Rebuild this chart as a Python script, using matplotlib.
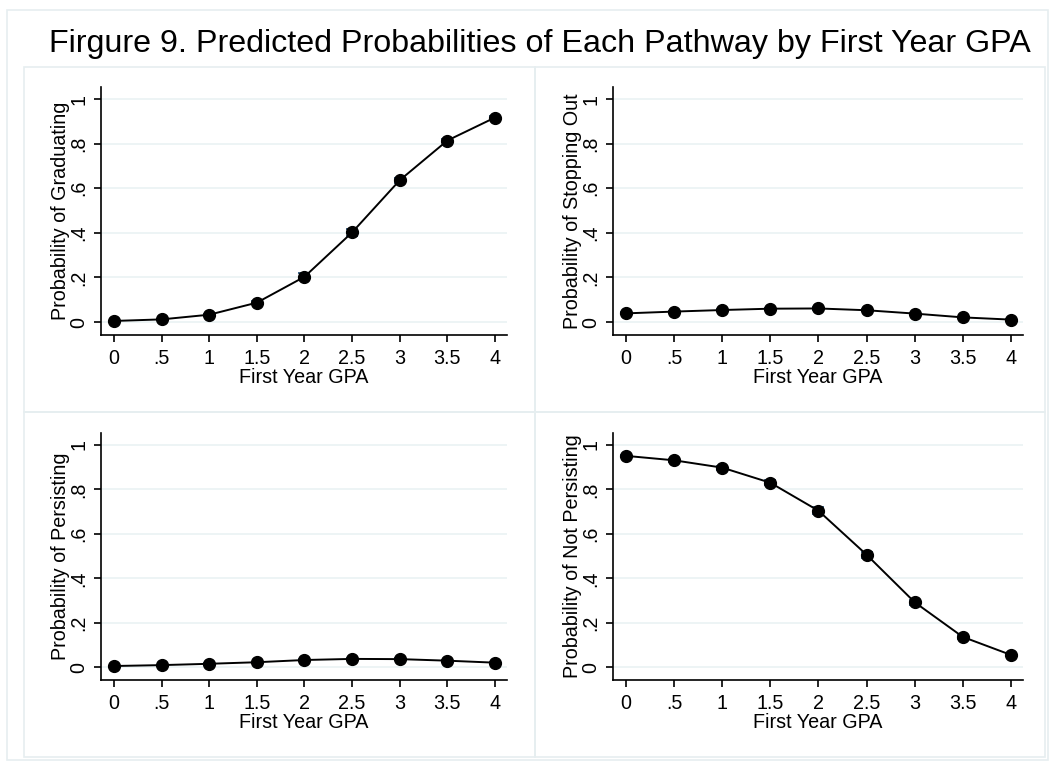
#!/usr/bin/env python3
# Predicted probabilities of each pathway by first year GPA (2x2 panels)
import matplotlib
matplotlib.use('Agg')
from matplotlib import pyplot as plt
from matplotlib.patches import Rectangle

plt.rcParams['font.family'] = ['Liberation Sans', 'DejaVu Sans']

# data
gpa = [0, 0.5, 1, 1.5, 2, 2.5, 3, 3.5, 4]
gpa_labels = ['0', '.5', '1', '1.5', '2', '2.5', '3', '3.5', '4']
prob_ticks = [0, 0.2, 0.4, 0.6, 0.8, 1]
prob_labels = ['0', '.2', '.4', '.6', '.8', '1']

graduating = [0.005, 0.012, 0.033, 0.087, 0.203, 0.402, 0.636, 0.814, 0.917]
graduating_ci = [0.002, 0.003, 0.005, 0.008, 0.016, 0.014, 0.011, 0.008, 0.006]
stopping_out = [0.039, 0.047, 0.054, 0.060, 0.061, 0.053, 0.038, 0.021, 0.011]
stopping_out_ci = [0.004, 0.004, 0.004, 0.004, 0.005, 0.004, 0.004, 0.003, 0.002]
persisting = [0.005, 0.009, 0.015, 0.022, 0.032, 0.037, 0.036, 0.029, 0.020]
persisting_ci = [0.002, 0.002, 0.003, 0.003, 0.004, 0.004, 0.004, 0.004, 0.004]
not_persisting = [0.951, 0.931, 0.898, 0.830, 0.704, 0.506, 0.292, 0.136, 0.055]
not_persisting_ci = [0.006, 0.007, 0.009, 0.012, 0.016, 0.013, 0.011, 0.008, 0.005]

panels = [
	('Probability of Graduating', graduating, graduating_ci),
	('Probability of Stopping Out', stopping_out, stopping_out_ci),
	('Probability of Persisting', persisting, persisting_ci),
	('Probability of Not Persisting', not_persisting, not_persisting_ci),
]

W, H = 1055, 768
fig = plt.figure(figsize=(W / 100, H / 100), dpi=100)

border = '#e6eef0'

def px_rect(x0, y0, x1, y1):
	# rectangle in figure fraction from pixel corners (top-left origin)
	return Rectangle((x0 / W, 1 - y1 / H), (x1 - x0) / W, (y1 - y0) / H,
		transform=fig.transFigure, fill=False, edgecolor=border, linewidth=1.2)

fig.patches.append(px_rect(7, 10, 1048, 760))
for (x0, y0, x1, y1) in [(24, 67, 535, 412), (535, 67, 1045, 412),
						(24, 412, 535, 757), (535, 412, 1045, 757)]:
	fig.patches.append(px_rect(x0, y0, x1, y1))

fig.text(540 / W, 1 - 44 / H, 'Firgure 9. Predicted Probabilities of Each Pathway by First Year GPA',
	ha='center', va='center', fontsize=23.2)

# axes positions in pixels: left, right, top, bottom
boxes = [(101, 507, 87, 335), (613, 1023, 87, 335),
		(101, 507, 433, 680), (613, 1023, 433, 680)]

for (ylabel, values, ci), (l, r, t, b) in zip(panels, boxes):
	ax = fig.add_axes([l / W, 1 - b / H, (r - l) / W, (b - t) / H])
	ax.errorbar(gpa, values, yerr=ci, fmt='none', ecolor='#1a476f',
		elinewidth=1.2, capsize=4, capthick=1.2, zorder=2)
	ax.plot(gpa, values, color='black', linewidth=1.4, marker='o',
		markersize=8.5, zorder=3)
	ax.set_xlim(-0.136, 4.126)
	ax.set_ylim(-0.058, 1.054)
	ax.set_xticks(gpa)
	ax.set_xticklabels(gpa_labels)
	ax.set_yticks(prob_ticks)
	ax.set_yticklabels(prob_labels, rotation=90, va='center')
	ax.yaxis.grid(True, color='#eaf2f3', linewidth=1.2)
	ax.set_axisbelow(True)
	for side in ('top', 'right'):
		ax.spines[side].set_visible(False)
	for side in ('left', 'bottom'):
		ax.spines[side].set_linewidth(1.2)
	ax.tick_params(direction='out', length=5, width=1.2, labelsize=14.2, pad=5)
	ax.tick_params(axis='y', pad=4)
	ax.set_xlabel('First Year GPA', fontsize=14.2, labelpad=0)
	ax.set_ylabel(ylabel, fontsize=14.2, labelpad=0)

plt.savefig('out.png', dpi=100)
